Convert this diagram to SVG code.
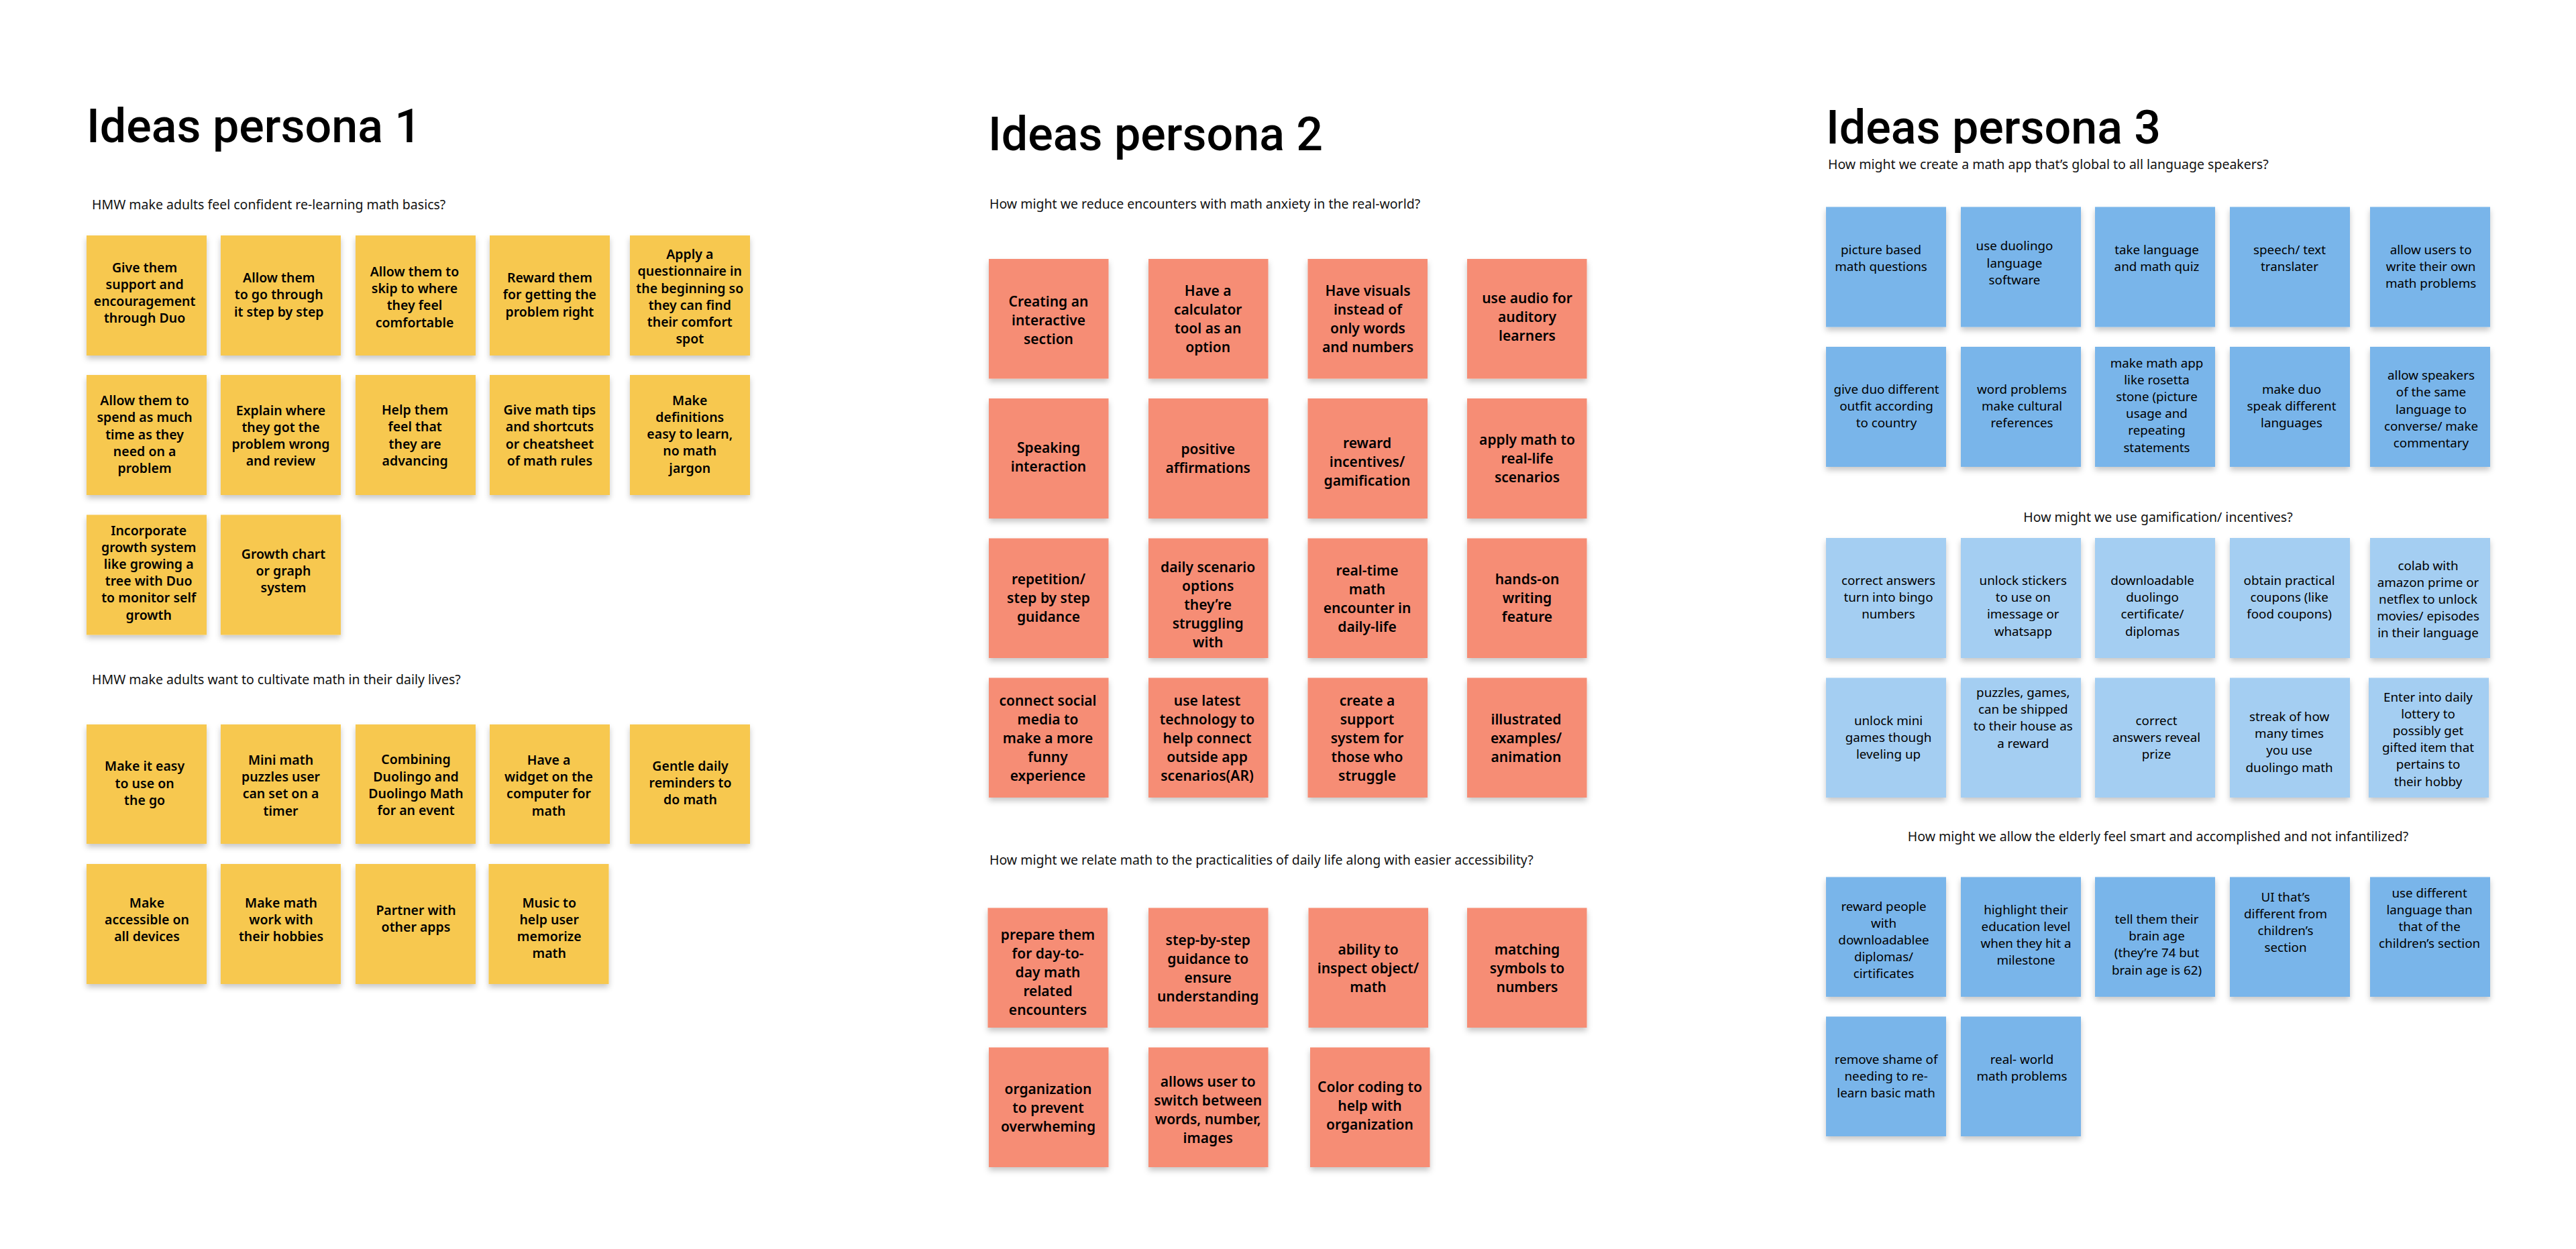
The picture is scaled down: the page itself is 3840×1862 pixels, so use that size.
<svg xmlns="http://www.w3.org/2000/svg" width="3840" height="1862" viewBox="0 0 3840 1862">
<defs><filter id="sh" x="-10%" y="-10%" width="120%" height="125%"><feDropShadow dx="0" dy="5" stdDeviation="4" flood-color="#000" flood-opacity="0.22"/></filter></defs>
<style>
.bg{fill:#fff}
.title{font:500 70px Roboto,"Liberation Sans",sans-serif;fill:#000}
.sub{font:400 19.5px "Noto Sans","Liberation Sans",sans-serif;fill:#111}
.subm{text-anchor:middle}
rect{filter:url(#sh)}
.bg{filter:none}
.ye rect{fill:#F7C84F}.sa rect{fill:#F68D74}.bd rect{fill:#79B5EA}.bl rect{fill:#A4CEF2}
.ye text,.sa text,.bd text,.bl text{text-anchor:middle;fill:#000;font-family:"Noto Sans","Liberation Sans",sans-serif}
.ye text{font-size:19.5px;font-weight:600;transform:translateY(1.5px)}
.sa text{font-size:21px;font-weight:600;transform:translateY(1.5px)}
.bd text,.bl text{font-size:18.8px;font-weight:400;transform:translateY(0.5px)}
</style>
<rect class="bg" width="3840" height="1862"/>
<g id="connectors"/>
<g id="headings">
<text class="title" x="129" y="212">Ideas persona 1</text>
<text class="title" x="1473" y="224">Ideas persona 2</text>
<text class="title" x="2722" y="214">Ideas persona 3</text>
<text class="sub" x="137" y="312">HMW make adults feel confident re-learning math basics?</text>
<text class="sub" x="137" y="1020">HMW make adults want to cultivate math in their daily lives?</text>
<text class="sub" x="1475" y="311">How might we reduce encounters with math anxiety in the real-world?</text>
<text class="sub" x="1475" y="1289">How might we relate math to the practicalities of daily life along with easier accessibility?</text>
<text class="sub" x="2725" y="252">How might we create a math app that’s global to all language speakers?</text>
<text class="sub subm" x="3217" y="778">How might we use gamification/ incentives?</text>
<text class="sub subm" x="3217" y="1254">How might we allow the elderly feel smart and accomplished and not infantilized?</text>
</g>
<g class="ye">
<g id="y1"><rect x="129" y="351" width="179" height="179"/><text y="404"><tspan x="215.6">Give them</tspan><tspan x="215.6" dy="25.2">support and</tspan><tspan x="215.6" dy="25.2">encouragement</tspan><tspan x="215.6" dy="25.2">through Duo</tspan></text></g>
<g id="y2"><rect x="329" y="351" width="179" height="179"/><text y="419.6"><tspan x="415.8">Allow them</tspan><tspan x="415.8" dy="25.2">to go through</tspan><tspan x="415.8" dy="25.2">it step by step</tspan></text></g>
<g id="y3"><rect x="530" y="351" width="179" height="179"/><text y="410.5"><tspan x="618">Allow them to</tspan><tspan x="618" dy="25.2">skip to where</tspan><tspan x="618" dy="25.2">they feel</tspan><tspan x="618" dy="25.2">comfortable</tspan></text></g>
<g id="y4"><rect x="730" y="351" width="179" height="179"/><text y="419.6"><tspan x="819.4">Reward them</tspan><tspan x="819.4" dy="25.2">for getting the</tspan><tspan x="819.4" dy="25.2">problem right</tspan></text></g>
<g id="y5"><rect x="939" y="351" width="179" height="179"/><text y="384.7"><tspan x="1028.3">Apply a</tspan><tspan x="1028.3" dy="25.2">questionnaire in</tspan><tspan x="1028.3" dy="25.2">the beginning so</tspan><tspan x="1028.3" dy="25.2">they can find</tspan><tspan x="1028.3" dy="25.2">their comfort</tspan><tspan x="1028.3" dy="25.2">spot</tspan></text></g>
<g id="y6"><rect x="129" y="559" width="179" height="179"/><text y="602.7"><tspan x="215.6">Allow them to</tspan><tspan x="215.6" dy="25.2">spend as much</tspan><tspan x="215.6" dy="25.2">time as they</tspan><tspan x="215.6" dy="25.2">need on a</tspan><tspan x="215.6" dy="25.2">problem</tspan></text></g>
<g id="y7"><rect x="329" y="559" width="179" height="179"/><text y="617.2"><tspan x="418.5">Explain where</tspan><tspan x="418.5" dy="25.2">they got the</tspan><tspan x="418.5" dy="25.2">problem wrong</tspan><tspan x="418.5" dy="25.2">and review</tspan></text></g>
<g id="y8"><rect x="530" y="559" width="179" height="179"/><text y="616.7"><tspan x="618.6">Help them</tspan><tspan x="618.6" dy="25.2">feel that</tspan><tspan x="618.6" dy="25.2">they are</tspan><tspan x="618.6" dy="25.2">advancing</tspan></text></g>
<g id="y9"><rect x="730" y="559" width="179" height="179"/><text y="616.7"><tspan x="819.4">Give math tips</tspan><tspan x="819.4" dy="25.2">and shortcuts</tspan><tspan x="819.4" dy="25.2">or cheatsheet</tspan><tspan x="819.4" dy="25.2">of math rules</tspan></text></g>
<g id="y10"><rect x="939" y="559" width="179" height="179"/><text y="602.2"><tspan x="1028.3">Make</tspan><tspan x="1028.3" dy="25.2">definitions</tspan><tspan x="1028.3" dy="25.2">easy to learn,</tspan><tspan x="1028.3" dy="25.2">no math</tspan><tspan x="1028.3" dy="25.2">jargon</tspan></text></g>
<g id="y11"><rect x="129" y="767.5" width="179" height="179"/><text y="796"><tspan x="221.7">Incorporate</tspan><tspan x="221.7" dy="25.2">growth system</tspan><tspan x="221.7" dy="25.2">like growing a</tspan><tspan x="221.7" dy="25.2">tree with Duo</tspan><tspan x="221.7" dy="25.2">to monitor self</tspan><tspan x="221.7" dy="25.2">growth</tspan></text></g>
<g id="y12"><rect x="329" y="767.5" width="179" height="179"/><text y="831"><tspan x="422.5">Growth chart</tspan><tspan x="422.5" dy="25.2">or graph</tspan><tspan x="422.5" dy="25.2">system</tspan></text></g>
<g id="y13"><rect x="129" y="1080" width="179" height="178"/><text y="1147.8"><tspan x="215.6">Make it easy</tspan><tspan x="215.6" dy="25.2">to use on</tspan><tspan x="215.6" dy="25.2">the go</tspan></text></g>
<g id="y14"><rect x="329" y="1080" width="179" height="178"/><text y="1138.5"><tspan x="418.5">Mini math</tspan><tspan x="418.5" dy="25.2">puzzles user</tspan><tspan x="418.5" dy="25.2">can set on a</tspan><tspan x="418.5" dy="25.2">timer</tspan></text></g>
<g id="y15"><rect x="530" y="1080" width="179" height="178"/><text y="1137.8"><tspan x="620">Combining</tspan><tspan x="620" dy="25.2">Duolingo and</tspan><tspan x="620" dy="25.2">Duolingo Math</tspan><tspan x="620" dy="25.2">for an event</tspan></text></g>
<g id="y16"><rect x="730" y="1080" width="179" height="178"/><text y="1138.5"><tspan x="818">Have a</tspan><tspan x="818" dy="25.2">widget on the</tspan><tspan x="818" dy="25.2">computer for</tspan><tspan x="818" dy="25.2">math</tspan></text></g>
<g id="y17"><rect x="939" y="1080" width="179" height="178"/><text y="1147"><tspan x="1029">Gentle daily</tspan><tspan x="1029" dy="25.2">reminders to</tspan><tspan x="1029" dy="25.2">do math</tspan></text></g>
<g id="y18"><rect x="129" y="1288" width="179" height="179"/><text y="1351"><tspan x="219">Make</tspan><tspan x="219" dy="25.2">accessible on</tspan><tspan x="219" dy="25.2">all devices</tspan></text></g>
<g id="y19"><rect x="329" y="1288" width="179" height="179"/><text y="1351"><tspan x="419">Make math</tspan><tspan x="419" dy="25.2">work with</tspan><tspan x="419" dy="25.2">their hobbies</tspan></text></g>
<g id="y20"><rect x="530" y="1288" width="179" height="179"/><text y="1362.5"><tspan x="620">Partner with</tspan><tspan x="620" dy="25.2">other apps</tspan></text></g>
<g id="y21"><rect x="728.5" y="1288" width="179" height="179"/><text y="1351"><tspan x="818.7">Music to</tspan><tspan x="818.7" dy="25.2">help user</tspan><tspan x="818.7" dy="25.2">memorize</tspan><tspan x="818.7" dy="25.2">math</tspan></text></g>
</g>
<g class="sa">
<g id="s1"><rect x="1474" y="386" width="178.5" height="178.5"/><text y="455.7"><tspan x="1563">Creating an</tspan><tspan x="1563" dy="28">interactive</tspan><tspan x="1563" dy="28">section</tspan></text></g>
<g id="s2"><rect x="1712" y="386" width="178.5" height="178.5"/><text y="439.4"><tspan x="1800.7">Have a</tspan><tspan x="1800.7" dy="28">calculator</tspan><tspan x="1800.7" dy="28">tool as an</tspan><tspan x="1800.7" dy="28">option</tspan></text></g>
<g id="s3"><rect x="1949.5" y="386" width="178.5" height="178.5"/><text y="439.4"><tspan x="2039">Have visuals</tspan><tspan x="2039" dy="28">instead of</tspan><tspan x="2039" dy="28">only words</tspan><tspan x="2039" dy="28">and numbers</tspan></text></g>
<g id="s4"><rect x="2187" y="386" width="178.5" height="178.5"/><text y="450.6"><tspan x="2276.5">use audio for</tspan><tspan x="2276.5" dy="28">auditory</tspan><tspan x="2276.5" dy="28">learners</tspan></text></g>
<g id="s5"><rect x="1474" y="594" width="178.5" height="179"/><text y="673"><tspan x="1563">Speaking</tspan><tspan x="1563" dy="28">interaction</tspan></text></g>
<g id="s6"><rect x="1712" y="594" width="178.5" height="179"/><text y="675.6"><tspan x="1800.7">positive</tspan><tspan x="1800.7" dy="28">affirmations</tspan></text></g>
<g id="s7"><rect x="1949.5" y="594" width="178.5" height="179"/><text y="666.4"><tspan x="2038">reward</tspan><tspan x="2038" dy="28">incentives/</tspan><tspan x="2038" dy="28">gamification</tspan></text></g>
<g id="s8"><rect x="2187" y="594" width="178.5" height="179"/><text y="661.8"><tspan x="2276.5">apply math to</tspan><tspan x="2276.5" dy="28">real-life</tspan><tspan x="2276.5" dy="28">scenarios</tspan></text></g>
<g id="s9"><rect x="1474" y="802.5" width="178.5" height="178.5"/><text y="869.5"><tspan x="1563">repetition/</tspan><tspan x="1563" dy="28">step by step</tspan><tspan x="1563" dy="28">guidance</tspan></text></g>
<g id="s10"><rect x="1712" y="802.5" width="178.5" height="178.5"/><text y="851.6"><tspan x="1800.7">daily scenario</tspan><tspan x="1800.7" dy="28">options</tspan><tspan x="1800.7" dy="28">they’re</tspan><tspan x="1800.7" dy="28">struggling</tspan><tspan x="1800.7" dy="28">with</tspan></text></g>
<g id="s11"><rect x="1949.5" y="802.5" width="178.5" height="178.5"/><text y="856"><tspan x="2038">real-time</tspan><tspan x="2038" dy="28">math</tspan><tspan x="2038" dy="28">encounter in</tspan><tspan x="2038" dy="28">daily-life</tspan></text></g>
<g id="s12"><rect x="2187" y="802.5" width="178.5" height="178.5"/><text y="869.5"><tspan x="2276.5">hands-on</tspan><tspan x="2276.5" dy="28">writing</tspan><tspan x="2276.5" dy="28">feature</tspan></text></g>
<g id="s13"><rect x="1474" y="1010.5" width="178.5" height="178.5"/><text y="1050"><tspan x="1562">connect social</tspan><tspan x="1562" dy="28">media to</tspan><tspan x="1562" dy="28">make a more</tspan><tspan x="1562" dy="28">funny</tspan><tspan x="1562" dy="28">experience</tspan></text></g>
<g id="s14"><rect x="1712" y="1010.5" width="178.5" height="178.5"/><text y="1050"><tspan x="1799.5">use latest</tspan><tspan x="1799.5" dy="28">technology to</tspan><tspan x="1799.5" dy="28">help connect</tspan><tspan x="1799.5" dy="28">outside app</tspan><tspan x="1799.5" dy="28">scenarios(AR)</tspan></text></g>
<g id="s15"><rect x="1949.5" y="1010.5" width="178.5" height="178.5"/><text y="1050"><tspan x="2038">create a</tspan><tspan x="2038" dy="28">support</tspan><tspan x="2038" dy="28">system for</tspan><tspan x="2038" dy="28">those who</tspan><tspan x="2038" dy="28">struggle</tspan></text></g>
<g id="s16"><rect x="2187" y="1010.5" width="178.5" height="178.5"/><text y="1078"><tspan x="2275">illustrated</tspan><tspan x="2275" dy="28">examples/</tspan><tspan x="2275" dy="28">animation</tspan></text></g>
<g id="s17"><rect x="1472.5" y="1353.5" width="178.5" height="178.5"/><text y="1399.4"><tspan x="1562">prepare them</tspan><tspan x="1562" dy="28">for day-to-</tspan><tspan x="1562" dy="28">day math</tspan><tspan x="1562" dy="28">related</tspan><tspan x="1562" dy="28">encounters</tspan></text></g>
<g id="s18"><rect x="1712" y="1353.5" width="178.5" height="178.5"/><text y="1407"><tspan x="1800.7">step-by-step</tspan><tspan x="1800.7" dy="28">guidance to</tspan><tspan x="1800.7" dy="28">ensure</tspan><tspan x="1800.7" dy="28">understanding</tspan></text></g>
<g id="s19"><rect x="1950.5" y="1353.5" width="178.5" height="178.5"/><text y="1421.3"><tspan x="2039.5">ability to</tspan><tspan x="2039.5" dy="28">inspect object/</tspan><tspan x="2039.5" dy="28">math</tspan></text></g>
<g id="s20"><rect x="2187" y="1353.5" width="178.5" height="178.5"/><text y="1421.3"><tspan x="2276.5">matching</tspan><tspan x="2276.5" dy="28">symbols to</tspan><tspan x="2276.5" dy="28">numbers</tspan></text></g>
<g id="s21"><rect x="1474" y="1561.5" width="178.5" height="178.5"/><text y="1629.3"><tspan x="1562.5">organization</tspan><tspan x="1562.5" dy="28">to prevent</tspan><tspan x="1562.5" dy="28">overwheming</tspan></text></g>
<g id="s22"><rect x="1712" y="1561.5" width="178.5" height="178.5"/><text y="1618.8"><tspan x="1800.7">allows user to</tspan><tspan x="1800.7" dy="28">switch between</tspan><tspan x="1800.7" dy="28">words, number,</tspan><tspan x="1800.7" dy="28">images</tspan></text></g>
<g id="s23"><rect x="1953" y="1561.5" width="178.5" height="178.5"/><text y="1626.3"><tspan x="2042">Color coding to</tspan><tspan x="2042" dy="28">help with</tspan><tspan x="2042" dy="28">organization</tspan></text></g>
</g>
<g class="bd">
<g id="b1"><rect x="2722" y="308.5" width="179" height="179"/><text y="378"><tspan x="2804">picture based</tspan><tspan x="2804" dy="25.2">math questions</tspan></text></g>
<g id="b2"><rect x="2923" y="308.5" width="179" height="179"/><text y="372.8"><tspan x="3003">use duolingo</tspan><tspan x="3003" dy="25.2">language</tspan><tspan x="3003" dy="25.2">software</tspan></text></g>
<g id="b3"><rect x="3123" y="308.5" width="179" height="179"/><text y="378"><tspan x="3215">take language</tspan><tspan x="3215" dy="25.2">and math quiz</tspan></text></g>
<g id="b4"><rect x="3324" y="308.5" width="179" height="179"/><text y="378"><tspan x="3413">speech/ text</tspan><tspan x="3413" dy="25.2">translater</tspan></text></g>
<g id="b5"><rect x="3533" y="308.5" width="179" height="179"/><text y="378.5"><tspan x="3623.6">allow users to</tspan><tspan x="3623.6" dy="25.2">write their own</tspan><tspan x="3623.6" dy="25.2">math problems</tspan></text></g>
<g id="b6"><rect x="2722" y="517" width="179" height="179"/><text y="586.3"><tspan x="2812">give duo different</tspan><tspan x="2812" dy="25.2">outfit according</tspan><tspan x="2812" dy="25.2">to country</tspan></text></g>
<g id="b7"><rect x="2923" y="517" width="179" height="179"/><text y="586.3"><tspan x="3014">word problems</tspan><tspan x="3014" dy="25.2">make cultural</tspan><tspan x="3014" dy="25.2">references</tspan></text></g>
<g id="b8"><rect x="3123" y="517" width="179" height="179"/><text y="547"><tspan x="3215">make math app</tspan><tspan x="3215" dy="25.2">like rosetta</tspan><tspan x="3215" dy="25.2">stone (picture</tspan><tspan x="3215" dy="25.2">usage and</tspan><tspan x="3215" dy="25.2">repeating</tspan><tspan x="3215" dy="25.2">statements</tspan></text></g>
<g id="b9"><rect x="3324" y="517" width="179" height="179"/><text y="586.3"><tspan x="3416">make duo</tspan><tspan x="3416" dy="25.2">speak different</tspan><tspan x="3416" dy="25.2">languages</tspan></text></g>
<g id="b10"><rect x="3533" y="517" width="179" height="179"/><text y="565.6"><tspan x="3624">allow speakers</tspan><tspan x="3624" dy="25.2">of the same</tspan><tspan x="3624" dy="25.2">language to</tspan><tspan x="3624" dy="25.2">converse/ make</tspan><tspan x="3624" dy="25.2">commentary</tspan></text></g>
<g id="b21"><rect x="2722" y="1307.5" width="179" height="178.5"/><text y="1357"><tspan x="2808">reward people</tspan><tspan x="2808" dy="25.2">with</tspan><tspan x="2808" dy="25.2">downloadablee</tspan><tspan x="2808" dy="25.2">diplomas/</tspan><tspan x="2808" dy="25.2">cirtificates</tspan></text></g>
<g id="b22"><rect x="2923" y="1307.5" width="179" height="178.5"/><text y="1362"><tspan x="3020">highlight their</tspan><tspan x="3020" dy="25.2">education level</tspan><tspan x="3020" dy="25.2">when they hit a</tspan><tspan x="3020" dy="25.2">milestone</tspan></text></g>
<g id="b23"><rect x="3123" y="1307.5" width="179" height="178.5"/><text y="1376.5"><tspan x="3215">tell them their</tspan><tspan x="3215" dy="25.2">brain age</tspan><tspan x="3215" dy="25.2">(they’re 74 but</tspan><tspan x="3215" dy="25.2">brain age is 62)</tspan></text></g>
<g id="b24"><rect x="3324" y="1307.5" width="179" height="178.5"/><text y="1343"><tspan x="3407">UI that’s</tspan><tspan x="3407" dy="25.2">different from</tspan><tspan x="3407" dy="25.2">children’s</tspan><tspan x="3407" dy="25.2">section</tspan></text></g>
<g id="b25"><rect x="3533" y="1307.5" width="179" height="178.5"/><text y="1337"><tspan x="3621.6">use different</tspan><tspan x="3621.6" dy="25.2">language than</tspan><tspan x="3621.6" dy="25.2">that of the</tspan><tspan x="3621.6" dy="25.2">children’s section</tspan></text></g>
<g id="b26"><rect x="2722" y="1515.5" width="179" height="178.5"/><text y="1585"><tspan x="2811.6">remove shame of</tspan><tspan x="2811.6" dy="25.2">needing to re-</tspan><tspan x="2811.6" dy="25.2">learn basic math</tspan></text></g>
<g id="b27"><rect x="2923" y="1515.5" width="179" height="178.5"/><text y="1585"><tspan x="3014">real- world</tspan><tspan x="3014" dy="25.2">math problems</tspan></text></g>
</g>
<g class="bl">
<g id="b11"><rect x="2722" y="802" width="179" height="179"/><text y="871.5"><tspan x="2815">correct answers</tspan><tspan x="2815" dy="25.2">turn into bingo</tspan><tspan x="2815" dy="25.2">numbers</tspan></text></g>
<g id="b12"><rect x="2923" y="802" width="179" height="179"/><text y="871.5"><tspan x="3015.8">unlock stickers</tspan><tspan x="3015.8" dy="25.2">to use on</tspan><tspan x="3015.8" dy="25.2">imessage or</tspan><tspan x="3015.8" dy="25.2">whatsapp</tspan></text></g>
<g id="b13"><rect x="3123" y="802" width="179" height="179"/><text y="871.5"><tspan x="3208.5">downloadable</tspan><tspan x="3208.5" dy="25.2">duolingo</tspan><tspan x="3208.5" dy="25.2">certificate/</tspan><tspan x="3208.5" dy="25.2">diplomas</tspan></text></g>
<g id="b14"><rect x="3324" y="802" width="179" height="179"/><text y="871"><tspan x="3412.6">obtain practical</tspan><tspan x="3412.6" dy="25.2">coupons (like</tspan><tspan x="3412.6" dy="25.2">food coupons)</tspan></text></g>
<g id="b15"><rect x="3533" y="802" width="179" height="179"/><text y="849"><tspan x="3619.5">colab with</tspan><tspan x="3619.5" dy="25.2">amazon prime or</tspan><tspan x="3619.5" dy="25.2">netflex to unlock</tspan><tspan x="3619.5" dy="25.2">movies/ episodes</tspan><tspan x="3619.5" dy="25.2">in their language</tspan></text></g>
<g id="b16"><rect x="2722" y="1010.5" width="179" height="178.5"/><text y="1080"><tspan x="2815">unlock mini</tspan><tspan x="2815" dy="25.2">games though</tspan><tspan x="2815" dy="25.2">leveling up</tspan></text></g>
<g id="b17"><rect x="2923" y="1010.5" width="179" height="178.5"/><text y="1038.5"><tspan x="3015.8">puzzles, games,</tspan><tspan x="3015.8" dy="25.2">can be shipped</tspan><tspan x="3015.8" dy="25.2">to their house as</tspan><tspan x="3015.8" dy="25.2">a reward</tspan></text></g>
<g id="b18"><rect x="3123" y="1010.5" width="179" height="178.5"/><text y="1080"><tspan x="3214.5">correct</tspan><tspan x="3214.5" dy="25.2">answers reveal</tspan><tspan x="3214.5" dy="25.2">prize</tspan></text></g>
<g id="b19"><rect x="3324" y="1010.5" width="179" height="178.5"/><text y="1074.5"><tspan x="3412.6">streak of how</tspan><tspan x="3412.6" dy="25.2">many times</tspan><tspan x="3412.6" dy="25.2">you use</tspan><tspan x="3412.6" dy="25.2">duolingo math</tspan></text></g>
<g id="b20"><rect x="3531" y="1010.5" width="179" height="178.5"/><text y="1045"><tspan x="3619.5">Enter into daily</tspan><tspan x="3619.5" dy="25.2">lottery to</tspan><tspan x="3619.5" dy="25.2">possibly get</tspan><tspan x="3619.5" dy="25.2">gifted item that</tspan><tspan x="3619.5" dy="25.2">pertains to</tspan><tspan x="3619.5" dy="25.2">their hobby</tspan></text></g>
</g>
</svg>
